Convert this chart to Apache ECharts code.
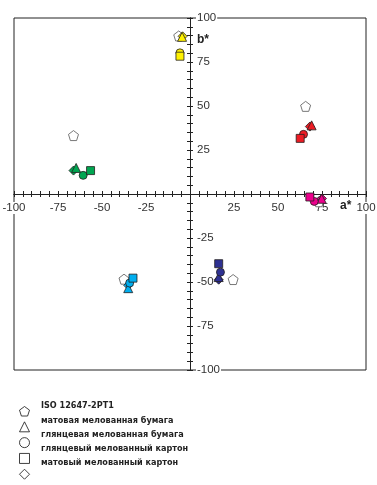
<!DOCTYPE html>
<html>
<head>
<meta charset="utf-8">
<script src="https://cdn.jsdelivr.net/npm/echarts@6/dist/echarts.min.js"></script>
<style>
  html, body { margin: 0; padding: 0; background: #fff; }
  #chart { width: 377px; height: 485px; }
</style>
</head>
<body>
<div id="chart"></div>
<script>
// цвета красок: Y, G, R, M, B, C
const inkColors = ['#fff200', '#00a651', '#ed1c24', '#ec008c', '#2e3192', '#00aeef'];

const seriesNames = [
  'ISO 12647-2PT1',
  'матовая мелованная бумага',
  'глянцевая мелованная бумага',
  'глянцевый мелованный картон',
  'матовый мелованный картон'
];

// [a*, b*] по краскам в порядке inkColors
const isoPT1 = [[-6.4, 89.8], [-66.2, 33.2], [65.7, 49.8], [73.2, -4.4], [24.5, -48.6], [-37.5, -48.4]];
const matteBoard = [[-4.2, 89.6], [-66.2, 13.3], [68.1, 38.3], [75.0, -2.6], [16.3, -48.7], [-35.1, -51.9]];
const mattePaper = [[-4.5, 89.3], [-64.7, 14.8], [69.1, 39.0], [74.8, -2.7], [16.3, -47.2], [-35.1, -53.5]];
const glossPaper = [[-5.7, 80.2], [-60.7, 10.6], [64.5, 33.9], [70.6, -4.2], [17.3, -44.4], [-34.3, -50.6]];
const glossBoard = [[-5.7, 78.3], [-56.5, 13.3], [62.6, 31.6], [68.1, -1.7], [16.3, -39.6], [-32.4, -47.8]];

const pentagon = 'path://M10,0L19.5,6.9L15.9,18.1L4.1,18.1L0.5,6.9Z';
const symbols = [pentagon, 'triangle', 'circle', 'rect', 'diamond'];
const sizes = [10, 9, 8, 8, 9];

const chart = echarts.init(document.getElementById('chart'));

const axisColor = '#222';
const labelFont = '"Liberation Sans", Arial, sans-serif';
// половина стороны области графика (352 / 2) — смещение осей к центру
const half = 176;

function makeSeries(name, data, symbol, size, isIso) {
  return {
    name: name,
    type: 'scatter',
    symbol: symbol,
    symbolSize: size,
    data: data.map((p, i) => ({
      value: p,
      itemStyle: {
        color: isIso ? '#fff' : inkColors[i],
        borderColor: isIso ? '#555' : '#231f20',
        borderWidth: 0.8,
        opacity: 1
      }
    })),
    emphasis: { disabled: true }
  };
}

function valueAxis(extra) {
  return Object.assign({
    type: 'value',
    min: -100,
    max: 100,
    interval: 25,
    offset: -half,
    axisLine: { onZero: false, lineStyle: { color: axisColor, width: 1 } },
    axisTick: { show: true, length: 3, lineStyle: { color: axisColor, width: 1 } },
    minorTick: { show: true, splitNumber: 5, length: 3, lineStyle: { color: axisColor, width: 1 } },
    splitLine: { show: false },
    minorSplitLine: { show: false }
  }, extra);
}

const labelStyle = {
  color: '#333',
  fontSize: 11.5,
  fontFamily: labelFont,
  backgroundColor: '#fff',
  padding: [0, 1],
  formatter: v => (v === 0 ? '' : String(v))
};

const option = {
  animation: false,
  backgroundColor: '#fff',
  grid: {
    show: true,
    left: 14,
    right: 11,
    top: 18,
    bottom: 115,
    outerBoundsMode: 'none',
    borderColor: axisColor,
    borderWidth: 1,
    backgroundColor: 'transparent'
  },
  xAxis: [
    valueAxis({ position: 'bottom', axisLabel: Object.assign({}, labelStyle, { margin: 8 }) }),
    valueAxis({ position: 'top', axisLabel: { show: false } })
  ],
  yAxis: [
    valueAxis({ position: 'right', axisLabel: Object.assign({}, labelStyle, { margin: 6 }) }),
    valueAxis({ position: 'left', axisLabel: { show: false } })
  ],
  legend: [
    {
      // только значки
      orient: 'vertical',
      left: 19,
      top: 406,
      padding: 0,
      itemWidth: 10,
      itemHeight: 10,
      itemGap: 4.8,
      selectedMode: false,
      formatter: () => '',
      data: seriesNames.map((n, i) => ({
        name: n,
        icon: symbols[i],
        itemStyle: { color: '#fff', borderColor: '#111', borderWidth: 1 }
      }))
    },
    {
      // только подписи
      orient: 'vertical',
      left: 36,
      top: 399,
      padding: 0,
      itemWidth: 0,
      itemHeight: 14.2,
      itemGap: 0,
      selectedMode: false,
      icon: 'rect',
      textStyle: {
        color: '#222',
        fontSize: 9,
        fontWeight: 'bold',
        lineHeight: 14.2,
        fontFamily: '"DejaVu Sans Condensed", sans-serif'
      },
      data: seriesNames
    }
  ],
  graphic: [
    { type: 'text', left: 197, top: 34, style: { text: 'b*', font: 'bold 12px "Liberation Sans", Arial, sans-serif', fill: '#222' } },
    { type: 'text', left: 340, top: 200, style: { text: 'a*', font: 'bold 12px "Liberation Sans", Arial, sans-serif', fill: '#222' } }
  ],
  series: [
    makeSeries(seriesNames[0], isoPT1, symbols[0], sizes[0], true),
    makeSeries(seriesNames[4], matteBoard, symbols[4], sizes[4], false),
    makeSeries(seriesNames[1], mattePaper, symbols[1], sizes[1], false),
    makeSeries(seriesNames[2], glossPaper, symbols[2], sizes[2], false),
    makeSeries(seriesNames[3], glossBoard, symbols[3], sizes[3], false)
  ]
};

chart.setOption(option);
</script>
</body>
</html>
